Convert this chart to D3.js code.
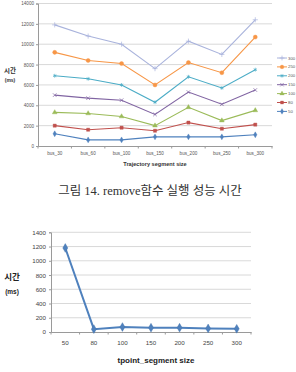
<!DOCTYPE html>
<html>
<head>
<meta charset="utf-8">
<script src="https://cdn.jsdelivr.net/npm/d3@7"></script>
<style>
  html, body { margin: 0; padding: 0; background: #fff; }
  svg { display: block; }
</style>
</head>
<body>
<svg id="chart" width="296" height="372"></svg>
<script>
// top chart: remove time per trajectory segment size
const segCats = ['bus_30', 'bus_60', 'bus_100', 'bus_150', 'bus_200', 'bus_250', 'bus_300'];
const seriesNames = ['300', '250', '200', '150', '100', '80', '50'];
const s300 = [11900, 10800, 10000, 7600, 10300, 9000, 12400];
const s250 = [9200, 8400, 8100, 6000, 8200, 7200, 10700];
const s200 = [6900, 6600, 6000, 4300, 6800, 5700, 7500];
const s150 = [5000, 4700, 4500, 3100, 5300, 4100, 5500];
const s100 = [3300, 3200, 2900, 2000, 3800, 2500, 3500];
const s80 = [2000, 1600, 1800, 1500, 2300, 1700, 2100];
const s50 = [1200, 600, 600, 900, 900, 900, 1100];
const topTicks = [0, 2000, 4000, 6000, 8000, 10000, 12000, 14000];

// bottom chart: tpoint segment size
const tpCats = ['50', '80', '100', '150', '200', '250', '300'];
const tpValues = [1180, 40, 70, 60, 60, 50, 45];
const bottomTicks = [0, 200, 400, 600, 800, 1000, 1200, 1400];

const colors = ['#a9b3dc', '#f79646', '#4bacc6', '#8064a2', '#9bbb59', '#c0504d', '#4f81bd'];
const shapes = [d3.symbolPlus, d3.symbolCircle, d3.symbolAsterisk, d3.symbolTimes, d3.symbolTriangle, d3.symbolSquare, d3.symbolDiamond];
const strokeOnly = [true, false, true, true, false, false, false];
const allSeries = [s300, s250, s200, s150, s100, s80, s50];

const svg = d3.select('#chart');
const gridColor = '#cfcfcf';
const axisColor = '#9a9a9a';
const plain = d3.format('d');

// ---- top chart ----
const x1 = d3.scaleBand().domain(segCats).range([38, 272]);
const y1 = d3.scaleLinear().domain([0, 14000]).range([146, 3.5]);

const g1 = svg.append('g');
g1.append('g').selectAll('line').data(topTicks.slice(1)).join('line')
  .attr('x1', 38).attr('x2', 272)
  .attr('y1', d => y1(d)).attr('y2', d => y1(d))
  .attr('stroke', gridColor).attr('stroke-width', 0.8);

const yAx1 = g1.append('g').attr('transform', 'translate(38,0)')
  .call(d3.axisLeft(y1).tickValues(topTicks).tickFormat(plain).tickSize(2).tickPadding(2));
yAx1.select('.domain').attr('stroke', axisColor);
yAx1.selectAll('line').attr('stroke', axisColor);
yAx1.selectAll('text').attr('font-size', 4.6).attr('fill', '#555').attr('font-family', 'Liberation Sans, Arial, sans-serif');

const xAx1 = g1.append('g').attr('transform', 'translate(0,146)')
  .call(d3.axisBottom(x1).tickSize(0).tickPadding(6));
xAx1.select('.domain').attr('stroke', axisColor);
xAx1.selectAll('text').attr('font-size', 4.6).attr('fill', '#555').attr('font-family', 'Liberation Sans, Arial, sans-serif');
// category boundary ticks
g1.append('g').selectAll('line').data(segCats.concat(['end'])).join('line')
  .attr('x1', (d, i) => x1.range()[0] + i * x1.step())
  .attr('x2', (d, i) => x1.range()[0] + i * x1.step())
  .attr('y1', 146).attr('y2', 148.5)
  .attr('stroke', axisColor);

const line1 = d3.line().x((d, i) => x1(segCats[i]) + x1.bandwidth() / 2).y(d => y1(d));
allSeries.forEach((vals, si) => {
  g1.append('path').datum(vals)
    .attr('d', line1)
    .attr('fill', 'none')
    .attr('stroke', colors[si])
    .attr('stroke-width', 1.1);
  g1.append('g').selectAll('path').data(vals).join('path')
    .attr('transform', (d, i) => `translate(${x1(segCats[i]) + x1.bandwidth() / 2},${y1(d)})`)
    .attr('d', d3.symbol(shapes[si], si === 1 ? 13 : 10))
    .attr('fill', strokeOnly[si] ? 'none' : colors[si])
    .attr('stroke', colors[si])
    .attr('stroke-width', strokeOnly[si] ? 0.7 : 0.4);
});

// legend
const leg = g1.append('g');
seriesNames.forEach((name, i) => {
  const ly = 58 + i * 8.9;
  leg.append('line').attr('x1', 277).attr('x2', 287).attr('y1', ly).attr('y2', ly)
    .attr('stroke', colors[i]).attr('stroke-width', 1);
  leg.append('path').attr('transform', `translate(282,${ly})`)
    .attr('d', d3.symbol(shapes[i], i === 1 ? 11 : 9))
    .attr('fill', strokeOnly[i] ? 'none' : colors[i])
    .attr('stroke', colors[i]).attr('stroke-width', strokeOnly[i] ? 0.7 : 0.3);
  leg.append('text').attr('x', 288).attr('y', ly + 1.5)
    .attr('font-size', 4.3).attr('fill', '#555')
    .attr('font-family', 'Liberation Sans, Arial, sans-serif')
    .text(name);
});

g1.append('text').attr('x', 155).attr('y', 166)
  .attr('text-anchor', 'middle').attr('font-size', 5.6).attr('font-weight', 'bold')
  .attr('fill', '#333').attr('font-family', 'Liberation Sans, Arial, sans-serif')
  .text('Trajectory segment size');
g1.append('text').attr('x', 10).attr('y', 73)
  .attr('text-anchor', 'middle').attr('font-size', 6.5).attr('font-weight', 'bold')
  .attr('fill', '#333').attr('font-family', 'Noto Sans CJK KR, sans-serif')
  .text('시간');
g1.append('text').attr('x', 10).attr('y', 82)
  .attr('text-anchor', 'middle').attr('font-size', 5).attr('font-weight', 'bold')
  .attr('fill', '#333').attr('font-family', 'Liberation Sans, Arial, sans-serif')
  .text('(ms)');

// caption
svg.append('text').attr('x', 150).attr('y', 195)
  .attr('text-anchor', 'middle').attr('font-size', 12.5)
  .attr('fill', '#333').attr('font-family', 'Liberation Serif, Noto Sans CJK KR, serif')
  .text('그림 14. remove함수 실행 성능 시간');

// ---- bottom chart ----
const x2 = d3.scaleBand().domain(tpCats).range([51, 251]);
const y2 = d3.scaleLinear().domain([0, 1400]).range([332, 232.3]);

const g2 = svg.append('g');
g2.append('g').selectAll('line').data(bottomTicks.slice(1)).join('line')
  .attr('x1', 51).attr('x2', 251)
  .attr('y1', d => y2(d)).attr('y2', d => y2(d))
  .attr('stroke', gridColor).attr('stroke-width', 0.8);

const yAx2 = g2.append('g').attr('transform', 'translate(51,0)')
  .call(d3.axisLeft(y2).tickValues(bottomTicks).tickFormat(plain).tickSize(2).tickPadding(3));
yAx2.select('.domain').attr('stroke', axisColor);
yAx2.selectAll('line').attr('stroke', axisColor);
yAx2.selectAll('text').attr('font-size', 6.2).attr('fill', '#444').attr('font-family', 'Liberation Sans, Arial, sans-serif');

const xAx2 = g2.append('g').attr('transform', 'translate(0,332)')
  .call(d3.axisBottom(x2).tickSize(0).tickPadding(9));
xAx2.select('.domain').attr('stroke', axisColor);
xAx2.selectAll('text').attr('font-size', 6.2).attr('fill', '#444').attr('font-family', 'Liberation Sans, Arial, sans-serif');
g2.append('g').selectAll('line').data(tpCats.concat(['end'])).join('line')
  .attr('x1', (d, i) => x2.range()[0] + i * x2.step())
  .attr('x2', (d, i) => x2.range()[0] + i * x2.step())
  .attr('y1', 332).attr('y2', 334.5)
  .attr('stroke', axisColor);

const line2 = d3.line().x((d, i) => x2(tpCats[i]) + x2.bandwidth() / 2).y(d => y2(d));
g2.append('path').datum(tpValues)
  .attr('d', line2).attr('fill', 'none')
  .attr('stroke', '#4f81bd').attr('stroke-width', 2);
g2.append('g').selectAll('path').data(tpValues).join('path')
  .attr('transform', (d, i) => `translate(${x2(tpCats[i]) + x2.bandwidth() / 2},${y2(d)})`)
  .attr('d', d3.symbol(d3.symbolDiamond, 22))
  .attr('fill', '#4f81bd').attr('stroke', '#3f6fa8').attr('stroke-width', 0.4);

g2.append('text').attr('x', 156).attr('y', 363)
  .attr('text-anchor', 'middle').attr('font-size', 8).attr('font-weight', 'bold')
  .attr('fill', '#222').attr('font-family', 'Liberation Sans, Arial, sans-serif')
  .text('tpoint_segment size');
g2.append('text').attr('x', 12).attr('y', 280)
  .attr('text-anchor', 'middle').attr('font-size', 8.5).attr('font-weight', 'bold')
  .attr('fill', '#222').attr('font-family', 'Noto Sans CJK KR, sans-serif')
  .text('시간');
g2.append('text').attr('x', 12).attr('y', 294)
  .attr('text-anchor', 'middle').attr('font-size', 6.5).attr('font-weight', 'bold')
  .attr('fill', '#222').attr('font-family', 'Liberation Sans, Arial, sans-serif')
  .text('(ms)');
</script>
</body>
</html>
